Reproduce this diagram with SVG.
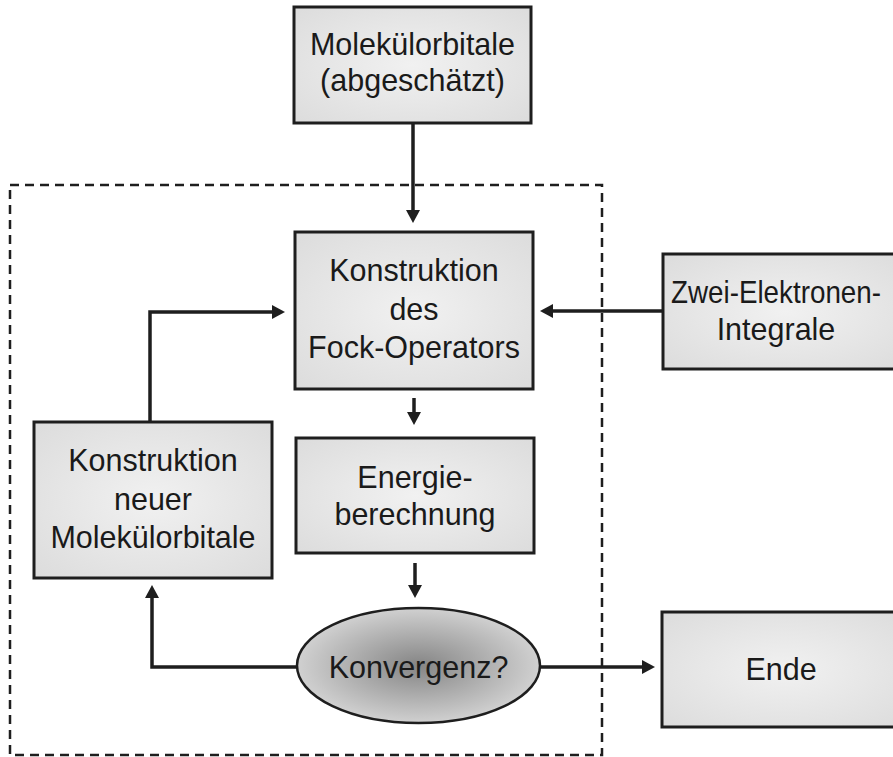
<svg xmlns="http://www.w3.org/2000/svg" width="893" height="757" viewBox="0 0 893 757">
<style>
.box{stroke:#1e1e1e;stroke-width:3;fill:url(#boxg)}
.ell{stroke:#1e1e1e;stroke-width:2.5;fill:url(#ellg)}
.t{font-family:"Liberation Sans",Arial,sans-serif;font-size:30.5px;fill:#1a1a1a;text-anchor:middle}
.c{stroke:#1e1e1e;stroke-width:3.5;fill:none;marker-end:url(#ah)}
.frame{stroke:#1e1e1e;stroke-width:2.5;fill:none;stroke-dasharray:9 6}
</style>
<defs>
<radialGradient id="boxg" cx="50%" cy="50%" r="70%">
<stop offset="0" stop-color="#f1f1f1"/>
<stop offset="1" stop-color="#dcdcdc"/>
</radialGradient>
<radialGradient id="ellg" cx="50%" cy="50%" r="55%">
<stop offset="0" stop-color="#858585"/>
<stop offset="1" stop-color="#d8d8d8"/>
</radialGradient>
<marker id="ah" markerUnits="userSpaceOnUse" markerWidth="14" markerHeight="14" refX="0" refY="7" orient="auto">
<path d="M0,0 L13,7 L0,14 z" fill="#1e1e1e"/>
</marker>
</defs>
<rect class="frame" x="10" y="185" width="592" height="570"/>
<g id="connectors">
<path class="c" d="M413,123 V210"/>
<path class="c" d="M662,311 H553"/>
<path class="c" d="M414,398 V412"/>
<path class="c" d="M415,563 V585"/>
<path class="c" d="M540,667 H642"/>
<path class="c" d="M297,667 H152 V598"/>
<path class="c" d="M150,422 V312 H272"/>
</g>
<g id="n1">
<rect class="box" x="294" y="7" width="237" height="116"/>
<text class="t" x="412.5" y="55">Molekülorbitale</text>
<text class="t" x="412.5" y="91">(abgeschätzt)</text>
</g>
<g id="n2">
<rect class="box" x="295" y="232" width="238" height="157"/>
<text class="t" x="414" y="281">Konstruktion</text>
<text class="t" x="414" y="320">des</text>
<text class="t" x="414" y="358">Fock-Operators</text>
</g>
<g id="n3">
<rect class="box" x="663" y="254" width="245" height="115"/>
<text class="t" x="776" y="303" textLength="210" lengthAdjust="spacingAndGlyphs">Zwei-Elektronen-</text>
<text class="t" x="776" y="340">Integrale</text>
</g>
<g id="n4">
<rect class="box" x="296" y="438" width="238" height="115"/>
<text class="t" x="415" y="488">Energie-</text>
<text class="t" x="415" y="525">berechnung</text>
</g>
<g id="n5">
<rect class="box" x="34" y="422" width="238" height="156"/>
<text class="t" x="153" y="471">Konstruktion</text>
<text class="t" x="153" y="510">neuer</text>
<text class="t" x="153" y="548">Molekülorbitale</text>
</g>
<g id="n6">
<ellipse class="ell" cx="418.5" cy="665.5" rx="121.5" ry="57.5"/>
<text class="t" x="418.5" y="678">Konvergenz?</text>
</g>
<g id="n7">
<rect class="box" x="662" y="612" width="245" height="115"/>
<text class="t" x="781" y="680">Ende</text>
</g>
</svg>
